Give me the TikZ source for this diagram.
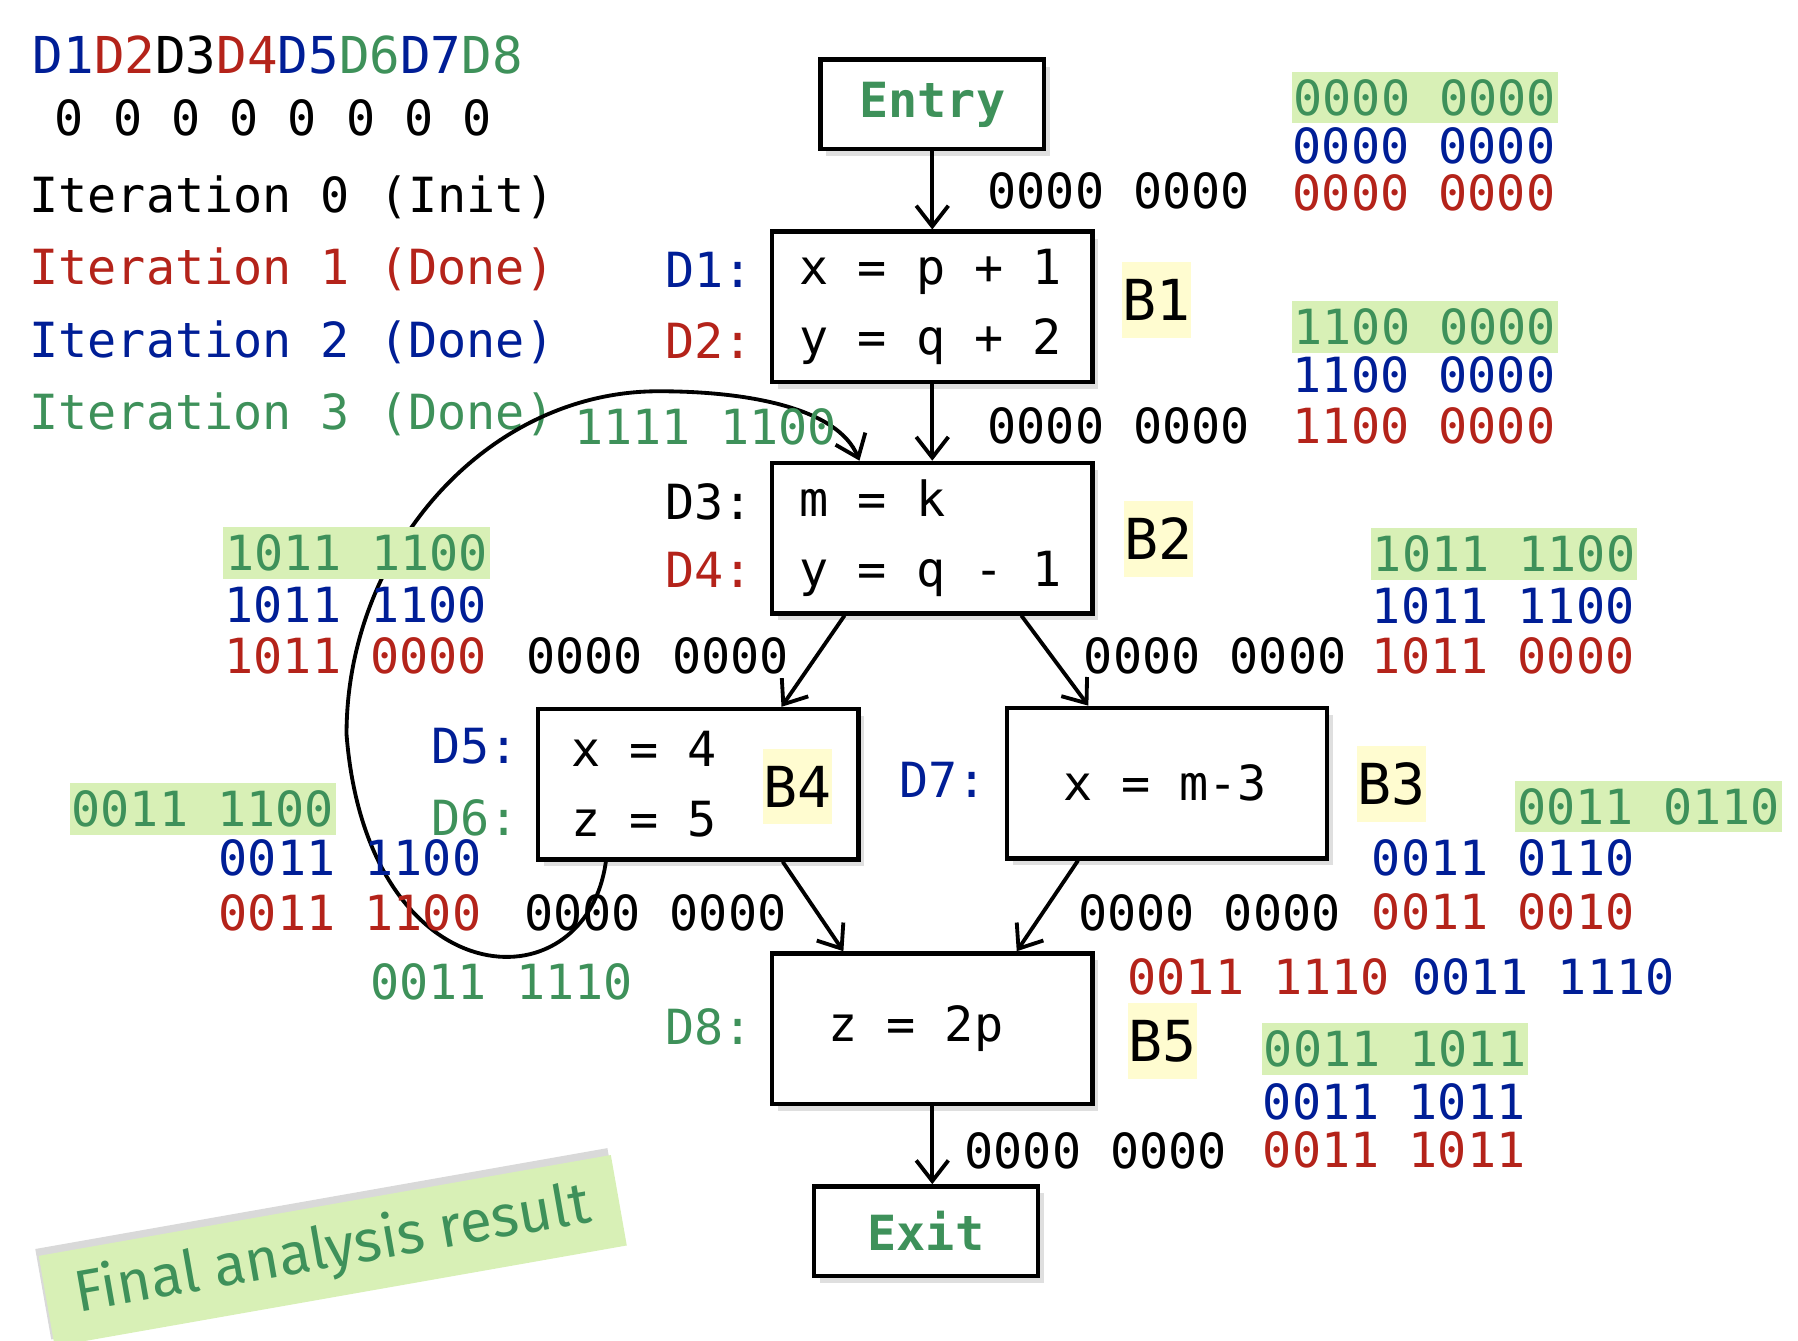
\documentclass[tikz,border=0pt]{standalone}
\usepackage{fontspec}
\setmonofont{DejaVu Sans Mono}
\newfontfamily\bannerfont{Fira Sans}
\usetikzlibrary{arrows.meta}
\usetikzlibrary{shadows}

\definecolor{dfBlue}{RGB}{0,30,150}
\definecolor{dfRed}{RGB}{180,35,26}
\definecolor{dfGreen}{RGB}{62,145,90}
\definecolor{hlGreen}{RGB}{216,240,182}
\definecolor{hlYellow}{RGB}{255,252,208}

\newcommand{\codefont}{\fontsize{12}{17.5}\selectfont\ttfamily}
\newcommand{\legfont}{\fontsize{12.6}{15}\selectfont\ttfamily}
\newcommand{\blkfont}{\fontsize{14}{16}\selectfont\ttfamily}

\begin{document}
\begin{tikzpicture}[x = 0.01cm, y = -0.01cm]
	\tikzstyle{bitStyle} = [font = \codefont, anchor = west, inner sep = 0pt]
	\tikzstyle{hlStyle} = [bitStyle, fill = hlGreen, text = dfGreen, minimum height = 0.45cm, inner xsep = 0.5pt]
	\tikzstyle{defStyle} = [font = \codefont, anchor = east, inner sep = 0pt]
	\tikzstyle{blockStyle} = [draw, fill = white, line width = 1.1pt, minimum height = 1.31cm, align = left, font = \codefont, execute at begin node = {\spaceskip = 0pt\xspaceskip = 0pt\relax}, drop shadow = {shadow xshift = 0.05cm, shadow yshift = -0.06cm, opacity = 0.25}]
	\tikzstyle{termStyle} = [draw, fill = white, line width = 1.1pt, minimum width = 1.95cm, minimum height = 0.78cm, font = \codefont\bfseries, text = dfGreen, drop shadow = {shadow xshift = 0.05cm, shadow yshift = -0.06cm, opacity = 0.25}]
	\tikzstyle{nameStyle} = [fill = hlYellow, font = \blkfont, inner sep = 0pt, minimum width = 0.6cm, minimum height = 0.66cm]
	\tikzstyle{edgeStyle} = [line width = 0.95pt, -{Straight Barb[length = 1.8mm, width = 2.8mm]}]
	\tikzstyle{bannerStyle} = [fill = hlGreen, text = dfGreen, font = \bannerfont\fontsize{14.5}{16}\selectfont, minimum width = 5.06cm, minimum height = 0.8cm, drop shadow = {shadow xshift = -0.03cm, shadow yshift = 0.06cm, opacity = 0.3}]
	\useasboundingbox (0,0) rectangle (1567,1168);
	% legend
	\node[bitStyle, font = \legfont] (legD) at (28, 48) {{\color{dfBlue}D1}{\color{dfRed}D2}D3{\color{dfRed}D4}{\color{dfBlue}D5}{\color{dfGreen}D6}{\color{dfBlue}D7}{\color{dfGreen}D8}};
	\node[bitStyle] (legZ) at (47, 103) {0 0 0 0 0 0 0 0};
	\node[bitStyle] (it0) at (25, 172) {Iteration 0 (Init)};
	\node[bitStyle, text = dfRed] (it1) at (25, 235) {Iteration 1 (Done)};
	\node[bitStyle, text = dfBlue] (it2) at (25, 298) {Iteration 2 (Done)};
	\node[bitStyle, text = dfGreen] (it3) at (25, 361) {Iteration 3 (Done)};
	% blocks
	\node[termStyle] (entry) at (812.5, 91) {Entry};
	\node[blockStyle, inner xsep = 0.24cm, text width = 2.31cm] (b1) at (812.5, 267.5) {\mbox{x = p + 1}\\\mbox{y = q + 2}};
	\node[blockStyle, inner xsep = 0.24cm, text width = 2.31cm] (b2) at (812.5, 469) {\mbox{m = k}\\\mbox{y = q - 1}};
	\node[blockStyle, inner xsep = 0.29cm, text width = 2.21cm] (b4) at (608.5, 683.5) {\mbox{x = 4}\\\mbox{z = 5}};
	\node[blockStyle, inner xsep = 0.49cm, text width = 1.81cm] (b3) at (1017, 682.5) {\mbox{x = m-3}};
	\node[blockStyle, inner xsep = 0.49cm, text width = 1.81cm] (b5) at (812.5, 896.5) {\mbox{z = 2p}};
	\node[termStyle] (exit) at (807, 1073) {Exit};
	\node[nameStyle] (n1) at (1008, 261.5) {B1};
	\node[nameStyle] (n2) at (1010, 469.5) {B2};
	\node[nameStyle] (n4) at (695, 685.5) {B4};
	\node[nameStyle] (n3) at (1212.5, 683.5) {B3};
	\node[nameStyle] (n5) at (1013, 907.5) {B5};
	\node[defStyle, text = dfBlue] (d1) at (657, 235) {D1:};
	\node[defStyle, text = dfRed] (d2) at (657, 297) {D2:};
	\node[defStyle] (d3) at (657, 437) {D3:};
	\node[defStyle, text = dfRed] (d4) at (657, 497) {D4:};
	\node[defStyle, text = dfBlue] (d5) at (453, 650) {D5:};
	\node[defStyle, text = dfGreen] (d6) at (453, 713) {D6:};
	\node[defStyle, text = dfBlue] (d7) at (861, 680) {D7:};
	\node[defStyle, text = dfGreen] (d8) at (657, 895) {D8:};
	% edges
	\draw[edgeStyle] (entry) -- (b1);
	\draw[edgeStyle] (b1) -- (b2);
	\draw[edgeStyle] ([xshift = 0.65cm]b2.south west) -- ([xshift = 2.14cm]b4.north west);
	\draw[edgeStyle] ([xshift = 2.19cm]b2.south west) -- ([xshift = 0.73cm]b3.north west);
	\draw[edgeStyle] ([xshift = 2.15cm]b4.south west) -- ([xshift = 0.64cm]b5.north west);
	\draw[edgeStyle] ([xshift = 0.64cm]b3.south west) -- ([xshift = 2.15cm]b5.north west);
	\draw[edgeStyle] (b5.south) -- (b5.south |- exit.north);
	\coordinate (loopL) at (302, 640);
	\coordinate (loopT) at (574, 341);
	\draw[edgeStyle] ([xshift = 0.61cm]b4.south west) .. controls (510, 880) and (320, 870) .. (loopL) .. controls (302, 480) and (424, 341) .. (loopT) .. controls (650, 341) and (730, 355) .. ([xshift = 0.78cm]b2.north west);
	% bit vectors
	\node[bitStyle] (e0) at (860, 166) {0000 0000};
	\node[hlStyle] (s0g) at (1125, 85) {0000 0000};
	\node[bitStyle, text = dfBlue] (s0b) at (1126, 127) {0000 0000};
	\node[bitStyle, text = dfRed] (s0r) at (1126, 168) {0000 0000};
	\node[hlStyle] (s1g) at (1125, 285) {1100 0000};
	\node[bitStyle, text = dfBlue] (s1b) at (1126, 327) {1100 0000};
	\node[bitStyle, text = dfRed] (s1r) at (1126, 371) {1100 0000};
	\node[bitStyle] (e1) at (860, 371) {0000 0000};
	\node[bitStyle, text = dfGreen] (eBack) at (500, 372) {1111 1100};
	\node[hlStyle] (s2Lg) at (194, 482) {1011 1100};
	\node[bitStyle, text = dfBlue] (s2Lb) at (195, 527) {1011 1100};
	\node[bitStyle, text = dfRed] (s2Lr) at (195, 572) {1011 0000};
	\node[bitStyle] (e2L) at (458, 572) {0000 0000};
	\node[hlStyle] (s2Rg) at (1194, 483) {1011 1100};
	\node[bitStyle, text = dfBlue] (s2Rb) at (1195, 528) {1011 1100};
	\node[bitStyle, text = dfRed] (s2Rr) at (1195, 572) {1011 0000};
	\node[bitStyle] (e2R) at (944, 572) {0000 0000};
	\node[hlStyle] (s4g) at (60, 705) {0011 1100};
	\node[bitStyle, text = dfBlue] (s4b) at (190, 748) {0011 1100};
	\node[bitStyle, text = dfRed] (s4r) at (190, 796) {0011 1100};
	\node[bitStyle] (e4) at (456, 796) {0000 0000};
	\node[bitStyle, text = dfGreen] (i5g) at (322, 856) {0011 1110};
	\node[hlStyle] (s3g) at (1320, 703) {0011 0110};
	\node[bitStyle, text = dfBlue] (s3b) at (1195, 748) {0011 0110};
	\node[bitStyle, text = dfRed] (s3r) at (1195, 795) {0011 0010};
	\node[bitStyle] (e3) at (939, 796) {0000 0000};
	\node[bitStyle, text = dfRed] (i5r) at (982, 851) {0011 1110};
	\node[bitStyle, text = dfBlue] (i5b) at (1230, 851) {0011 1110};
	\node[hlStyle] (s5g) at (1099, 914) {0011 1011};
	\node[bitStyle, text = dfBlue] (s5b) at (1100, 960) {0011 1011};
	\node[bitStyle, text = dfRed] (s5r) at (1100, 1002) {0011 1011};
	\node[bitStyle] (e5) at (840, 1003) {0000 0000};
	% note
	\node[bannerStyle, rotate = 10] (banner) at (290, 1090) {Final analysis result};
\end{tikzpicture}
\end{document}
